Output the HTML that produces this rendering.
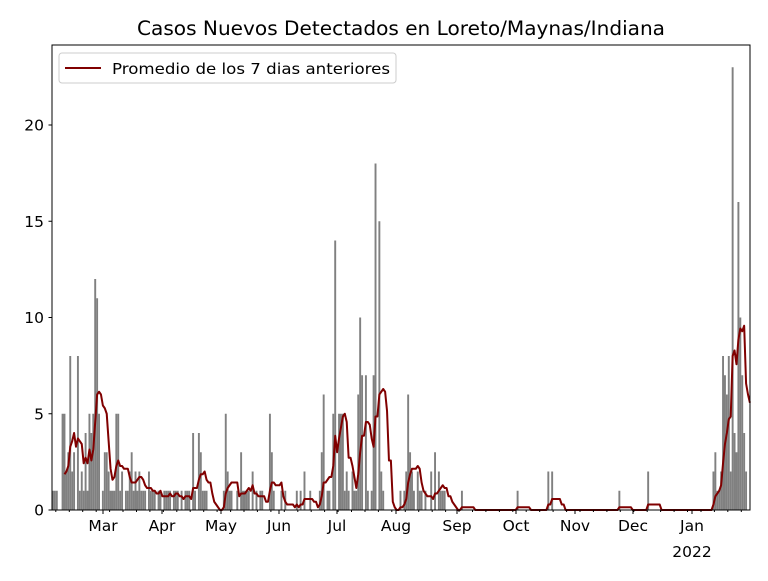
<!DOCTYPE html>
<html><head><meta charset="utf-8"><style>
body{margin:0;background:#fff}
svg text{font-family:"DejaVu Sans","Liberation Sans",sans-serif;fill:#000}
</style></head><body>
<svg id="s" width="768" height="576" xmlns="http://www.w3.org/2000/svg">
<rect width="768" height="576" fill="#fff"/>
<g id="bars" fill="#808080"></g>
<polyline id="ln" fill="none" stroke="#800000" stroke-width="2" stroke-linejoin="round"/>
<rect x="52" y="45" width="698" height="465" fill="none" stroke="#000" stroke-width="1"/>
<text x="401" y="35" font-size="19.5" text-anchor="middle" textLength="528" lengthAdjust="spacingAndGlyphs">Casos Nuevos Detectados en Loreto/Maynas/Indiana</text>
<g id="ticks" font-size="15.5"></g>
<rect x="59" y="53" width="337" height="30" rx="3" fill="#fff" fill-opacity="0.8" stroke="#ccc"/>
<line x1="65" y1="68" x2="101" y2="68" stroke="#800000" stroke-width="2"/>
<text x="112" y="74" font-size="15.5" textLength="278" lengthAdjust="spacingAndGlyphs">Promedio de los 7 dias anteriores</text>
</svg>
<script>
var N=364,v=new Array(N).fill(0);
function day(x){return Math.round((x-52)/1.92);}
var pts=[[52,1],[54,1],[56,1],[62,5],[64,5],[66,2],[68,3],[70,8],[72,2],[74,3],[76,8],[78,1],[80,2],[82,1],[84,4],[86,1],[88,5],[90,4],[92,5],[95,12],[97,11],[99,5],[101,1],[103,3],[105,3],[107,2],[109,1],[111,1],[113,1],[116,5],[118,5],[120,1],[122,2],[124,1],[126,1],[128,2],[131,3],[133,1],[135,2],[137,1],[139,2],[141,1],[143,1],[145,1],[148,2],[150,1],[152,1],[154,1],[158,1],[160,1],[164,1],[166,1],[168,1],[170,1],[172,1],[174,1],[176,1],[180,1],[184,1],[186,1],[188,1],[192,4],[194,1],[198,4],[200,3],[202,1],[204,1],[206,1],[222,1],[225,5],[227,2],[229,1],[231,1],[236,1],[240,3],[242,1],[244,1],[246,1],[248,1],[252,2],[256,1],[260,1],[262,1],[268,5],[270,1],[271,3],[273,1],[280,1],[284,1],[296,1],[300,1],[304,2],[310,1],[318,1],[320,3],[322,6],[326,1],[328,1],[333,5],[335,14],[338,5],[340,5],[342,5],[344,1],[346,2],[348,1],[352,2],[354,1],[356,1],[358,6],[360,10],[362,7],[364,7],[367,1],[370,1],[373,7],[375.5,18],[377.5,15],[379.5,2],[381.5,1],[400,1],[403,1],[405,2],[407,6],[409,3],[411,2],[413,1],[416,2],[418,1],[420,1],[424,1],[431,2],[435,3],[437,2],[439,1],[441,1],[444,1],[461,1],[517,1],[548,2],[551,2],[618,1],[648,2],[712,2],[714,3],[716,1],[718,1],[720,2],[722,8],[724,7],[726,6],[728,8],[730,2],[732,23],[734,4],[736,3],[738,16],[740,10],[742,7],[744,4],[746,2]];
pts.forEach(function(p){var d=day(p[0]);if(d>=0&&d<N)v[d]=p[1];});
var g=document.getElementById('bars'),h='',k=19.25;
for(var d=0;d<N;d++){if(v[d]>0){var x=52+d*1.92;var w=Math.min(1.92,750-x);h+='<rect x="'+x.toFixed(2)+'" y="'+(510-v[d]*k).toFixed(2)+'" width="'+w.toFixed(2)+'" height="'+(v[d]*k).toFixed(2)+'"/>';}}
g.innerHTML=h;
var lp=[];
for(var d=6;d<N;d++){var s=0;for(var j=d-6;j<=d;j++)s+=v[j];s/=7;lp.push((52+d*1.92+0.96).toFixed(2)+','+(510-s*k).toFixed(2));}
document.getElementById('ln').setAttribute('points',lp.join(' '));
var t='';
[0,5,10,15,20].forEach(function(y){var py=510-y*k;t+='<line x1="48.5" y1="'+py+'" x2="52" y2="'+py+'" stroke="#000"/><text x="44" y="'+(py+5.5)+'" text-anchor="end">'+y+'</text>';});
var m=[[103,'Mar'],[162,'Apr'],[221,'May'],[279,'Jun'],[337,'Jul'],[396,'Aug'],[457,'Sep'],[516,'Oct'],[575,'Nov'],[633,'Dec'],[692,'Jan']];
m.forEach(function(a){t+='<line x1="'+a[0]+'" y1="510" x2="'+a[0]+'" y2="514" stroke="#000"/><text x="'+a[0]+'" y="531" text-anchor="middle">'+a[1]+'</text>';});
for(var x=52+3.84;x<750;x+=13.44){t+='<line x1="'+x.toFixed(1)+'" y1="510" x2="'+x.toFixed(1)+'" y2="512" stroke="#000"/>';}
t+='<text x="692" y="557" text-anchor="middle">2022</text>';
document.getElementById('ticks').innerHTML=t;
</script>
</body></html>
